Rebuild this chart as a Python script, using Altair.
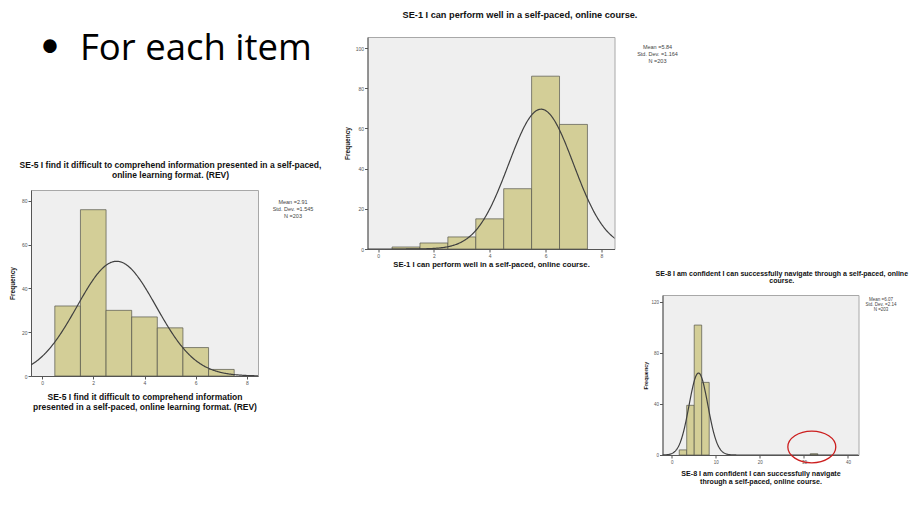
import altair as alt
import pandas as pd

FONT = "Liberation Sans"
BAR_FILL = "#D3CE97"
BAR_STROKE = "#55554a"
CURVE = "#404040"
PLOT_BG = "#EFEFEF"
FRAME = "#A8A8A8"
AXIS = "#555555"

# ---- SE-5 (left) ----
se5_start = [0.5, 1.5, 2.5, 3.5, 4.5, 5.5, 6.5]
se5_end = [1.5, 2.5, 3.5, 4.5, 5.5, 6.5, 7.5]
se5_freq = [32, 76, 30, 27, 22, 13, 3]
se5_mean, se5_sd, se5_n, se5_binw = 2.91, 1.545, 203, 1.0
se5_stats = ["Mean =2.91", "Std. Dev. =1.545", "N =203"]
se5_title = ["SE-5 I find it difficult to comprehend information presented in a self-paced,",
             "online learning format. (REV)"]
se5_xtitle = ["SE-5 I find it difficult to comprehend information",
              "presented in a self-paced, online learning format. (REV)"]
se5_xticks = [0, 2, 4, 6, 8]
se5_yticks = [0, 20, 40, 60, 80]

# ---- SE-1 (middle) ----
se1_start = [0.5, 1.5, 2.5, 3.5, 4.5, 5.5, 6.5]
se1_end = [1.5, 2.5, 3.5, 4.5, 5.5, 6.5, 7.5]
se1_freq = [1, 3, 6, 15, 30, 86, 62]
se1_mean, se1_sd, se1_n, se1_binw = 5.84, 1.164, 203, 1.0
se1_stats = ["Mean =5.84", "Std. Dev. =1.164", "N =203"]
se1_title = ["SE-1 I can perform well in a self-paced, online course."]
se1_xtitle = ["SE-1 I can perform well in a self-paced, online course."]
se1_xticks = [0, 2, 4, 6, 8]
se1_yticks = [0, 20, 40, 60, 80, 100]

# ---- SE-8 (right) ----
se8_start = [1.7, 3.4, 5.1, 6.8, 31.45]
se8_end = [3.4, 5.1, 6.8, 8.5, 33.15]
se8_freq = [4, 39, 102, 57, 1]
se8_mean, se8_sd, se8_n, se8_binw = 6.07, 2.14, 203, 1.7
se8_stats = ["Mean =6.07", "Std. Dev. =2.14", "N =203"]
se8_title = ["SE-8 I am confident I can successfully navigate through a self-paced, online",
             "course."]
se8_xtitle = ["SE-8 I am confident I can successfully navigate",
              "through a self-paced, online course."]
se8_xticks = [0, 10, 20, 30, 40]
se8_yticks = [0, 20, 40, 60, 80, 100, 120]
outlier_x = [31.8]
outlier_y = [6.3]

bullet_text = "For each item"


def hist(starts, ends, freq, mean, sd, n, binw, xdom, ydom, xticks, yticks, w, h,
         title, tsize, tdx, toff, tlh, xtitle, xtsize, xtpad, xtlh, ytsize, ytpad,
         lsize, stats, sx, sy, ssize, slh, extra=None):
    df = pd.DataFrame({"start": starts, "end": ends, "freq": freq})
    xs = alt.Scale(domain=xdom, nice=False, zero=False)
    ys = alt.Scale(domain=ydom, nice=False, zero=False)
    xaxis = alt.Axis(values=xticks, format="d", title=xtitle, titleFont=FONT,
                     titleFontSize=xtsize, titleFontWeight="bold", titleColor="#111111",
                     titlePadding=xtpad, titleLineHeight=xtlh, labelFont=FONT,
                     labelFontSize=lsize, labelColor=AXIS, labelPadding=1, tickSize=3,
                     tickColor=AXIS, domainColor=AXIS, grid=False, labelFlush=False,
                     labelOverlap=False)
    yaxis = alt.Axis(values=yticks, format="d", title="Frequency", titleFont=FONT,
                     titleFontSize=ytsize, titleFontWeight="bold", titleColor="#111111",
                     titlePadding=ytpad, labelFont=FONT, labelFontSize=lsize,
                     labelColor=AXIS, labelPadding=1, tickSize=3, tickColor=AXIS,
                     domainColor=AXIS, grid=False, labelFlush=False, labelOverlap=False)
    bars = alt.Chart(df).mark_rect(fill=BAR_FILL, stroke=BAR_STROKE, strokeWidth=0.7).encode(
        x=alt.X("start:Q", scale=xs, axis=xaxis),
        x2="end:Q",
        y=alt.Y("freq:Q", scale=ys, axis=yaxis),
        y2=alt.datum(0),
    )
    step = (xdom[1] - xdom[0]) / 400
    curve = alt.Chart(alt.sequence(xdom[0], xdom[1] + step, step, as_="v")).transform_calculate(
        f=f"{n * binw}/({sd}*sqrt(2*PI))*exp(-0.5*pow((datum.v-{mean})/{sd},2))"
    ).mark_line(color=CURVE, strokeWidth=1.2, clip=True).encode(
        x=alt.X("v:Q", scale=xs, axis=xaxis),
        y=alt.Y("f:Q", scale=ys, axis=yaxis),
    )
    st = alt.Chart(pd.DataFrame({"k": [0]})).mark_text(
        text=stats, font=FONT, fontSize=ssize, lineHeight=slh, align="center",
        baseline="top", color="#444444"
    ).encode(x=alt.value(sx), y=alt.value(sy))
    layers = [bars, curve, st]
    if extra is not None:
        layers.append(extra(xs, ys))
    return alt.layer(*layers).properties(
        width=w, height=h,
        title=alt.TitleParams(text=title, font=FONT, fontSize=tsize, fontWeight="bold",
                              color="#111111", anchor="middle", frame="group", dx=tdx,
                              offset=toff, lineHeight=tlh),
        view=alt.ViewBackground(fill=PLOT_BG, stroke=FRAME, strokeOpacity=1, strokeWidth=1),
    )


def ellipse(xs, ys):
    return alt.Chart(pd.DataFrame({"x": outlier_x, "y": outlier_y})).mark_point(
        shape="M -1 0 A 1 0.66 0 1 1 1 0 A 1 0.66 0 1 1 -1 0 Z",
        size=2300, filled=False, stroke="#CC1F1F", strokeWidth=1.3, opacity=1
    ).encode(x=alt.X("x:Q", scale=xs), y=alt.Y("y:Q", scale=ys))


se5 = hist(se5_start, se5_end, se5_freq, se5_mean, se5_sd, se5_n, se5_binw,
           [-0.43, 8.43], [0, 85], se5_xticks, se5_yticks, 227, 186,
           se5_title, 8.5, 26, 11, 9.5, se5_xtitle, 8.5, 7, 10.5, 6.5, 6,
           5, se5_stats, 262, 9.5, 5.5, 7)

se1 = hist(se1_start, se1_end, se1_freq, se1_mean, se1_sd, se1_n, se1_binw,
           [-0.38, 8.47], [0, 105.5], se1_xticks, se1_yticks, 247, 212,
           se1_title, 9.2, 29, 17, 10, se1_xtitle, 7.7, 2, 9, 6.5, 5,
           5, se1_stats, 290, 8, 5.5, 7)

se8 = hist(se8_start, se8_end, se8_freq, se8_mean, se8_sd, se8_n, se8_binw,
           [-2.1, 42.4], [0, 125.6], se8_xticks, se8_yticks, 196, 160,
           se8_title, 7.0, 21.3, 11.5, 7, se8_xtitle, 7.1, 5.5, 8.7, 5.5, 2,
           4.5, se8_stats, 218.5, 1.5, 4.5, 5, extra=ellipse)

one = pd.DataFrame({"k": [0]})
bullet = alt.Chart(one).mark_text(text="\u2022", font="Lato", fontSize=36, align="center",
                                  baseline="middle", color="#000000").encode(
    x=alt.value(19), y=alt.value(9))
words = alt.Chart(one).mark_text(text=bullet_text, font="Open Sans", fontSize=36.5, align="left",
                                 baseline="alphabetic", color="#000000").encode(
    x=alt.value(49), y=alt.value(23))
top_left = alt.layer(bullet, words).properties(width=227, height=122)

spacer_b = alt.Chart(one).mark_point(opacity=0, size=1).encode(
    x=alt.value(10), y=alt.value(10)).properties(width=274.5, height=20)

col1 = alt.vconcat(top_left, se5, spacing=0)
row_b = alt.hconcat(spacer_b, se8, spacing=0)
col23 = alt.vconcat(se1, row_b, spacing=0)

chart = alt.hconcat(col1, col23, spacing=21.5).properties(
    padding={"left": 0, "top": 2, "right": 0, "bottom": 0}
).configure(background="white", view=alt.ViewConfig(stroke="transparent"))

chart.save("out.html", embed_options={"renderer": "svg", "actions": False})
